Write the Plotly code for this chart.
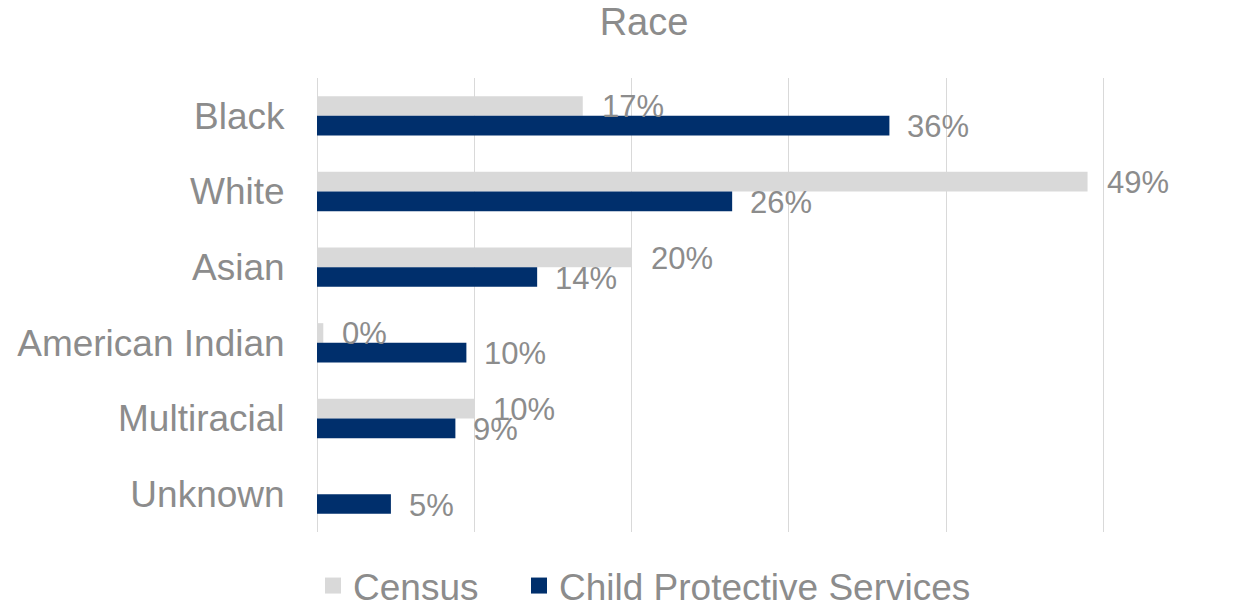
import plotly.graph_objects as go

categories = ["Black", "White", "Asian", "American Indian", "Multiracial", "Unknown"]
census_values = [16.9, 49.0, 20.0, 0.4, 10.0, None]
cps_values = [36.4, 26.4, 14.0, 9.5, 8.8, 4.7]
census_labels = ["17%", "49%", "20%", "0%", "10%", None]
cps_labels = ["36%", "26%", "14%", "10%", "9%", "5%"]
series_names = ["Census", "Child Protective Services"]
x_ticks = [0, 10, 20, 30, 40, 50]

census_color = "#D9D9D9"
cps_color = "#002F6C"
text_color = "#8C8C8C"
font_family = "Liberation Sans, Arial, sans-serif"

fig = go.Figure()
fig.add_trace(go.Bar(y=categories, x=census_values, orientation="h", showlegend=False,
                     name=series_names[0], marker=dict(color=census_color, line=dict(width=0))))
fig.add_trace(go.Bar(y=categories, x=cps_values, orientation="h", showlegend=False,
                     name=series_names[1], marker=dict(color=cps_color, line=dict(width=0))))
# legend entries with larger square swatches (one legend per entry for Excel-like spacing)
for nm, col, lg in zip(series_names, [census_color, cps_color], ["legend", "legend2"]):
    fig.add_trace(go.Scatter(x=[None], y=[None], mode="markers", name=nm, legend=lg,
                             marker=dict(symbol="square", size=16, color=col)))

annotations = []
for cat, v, lab in zip(categories, census_values, census_labels):
    if v is None or lab is None:
        continue
    annotations.append(dict(x=v, y=cat, xref="x", yref="y", text=lab, showarrow=False,
                            xanchor="left", yanchor="middle", xshift=17, yshift=9,
                            font=dict(size=31, color=text_color, family=font_family)))
for cat, v, lab in zip(categories, cps_values, cps_labels):
    annotations.append(dict(x=v, y=cat, xref="x", yref="y", text=lab, showarrow=False,
                            xanchor="left", yanchor="middle", xshift=16, yshift=-11,
                            font=dict(size=31, color=text_color, family=font_family)))

x_max = 50.3
plot_w = 791
margin_l = 309
margin_r = 1242 - margin_l - plot_w
plot_h = 613 - 70 - 89
legend_font = dict(size=37, color=text_color, family=font_family)

fig.update_layout(
    width=1242, height=613,
    margin=dict(l=margin_l, r=margin_r, t=70, b=89, autoexpand=False),
    paper_bgcolor="white", plot_bgcolor="white",
    barmode="group", bargap=0.48, bargroupgap=0,
    font=dict(family=font_family, color=text_color),
    title=dict(text="Race", x=636/1242, xanchor="center", xref="container",
               y=1 - 14/613, yanchor="middle", yref="container",
               font=dict(size=38, color=text_color, family=font_family)),
    xaxis=dict(range=[0, x_max], tickvals=x_ticks, showticklabels=False,
               showgrid=True, gridcolor="#D9D9D9", gridwidth=1,
               zeroline=True, zerolinecolor="#D9D9D9", zerolinewidth=1,
               showline=False, fixedrange=True, automargin=False),
    yaxis=dict(categoryorder="array", categoryarray=categories, autorange="reversed",
               showgrid=False, zeroline=False, showline=False, automargin=False,
               ticks="outside", ticklen=24, tickcolor="rgba(0,0,0,0)",
               tickfont=dict(size=37, color=text_color, family=font_family)),
    legend=dict(orientation="h", x=(305 - margin_l)/plot_w, xanchor="left",
                y=-(578 - 524)/plot_h, yanchor="middle",
                font=legend_font, itemwidth=30),
    legend2=dict(orientation="h", x=(511 - margin_l)/plot_w, xanchor="left",
                 y=-(578 - 524)/plot_h, yanchor="middle",
                 font=legend_font, itemwidth=30),
    annotations=annotations,
    showlegend=True,
)

fig.write_html("out.html")
